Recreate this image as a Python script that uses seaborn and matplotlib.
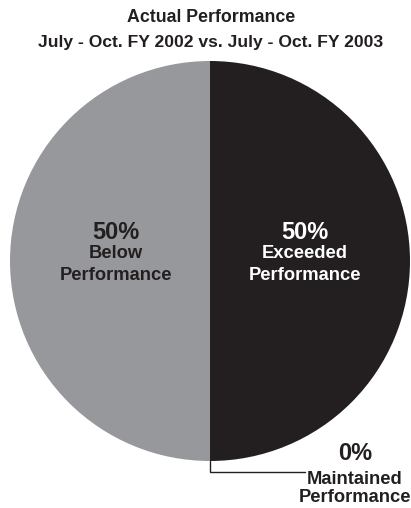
import matplotlib
matplotlib.use("Agg")
import matplotlib.pyplot as plt
import seaborn as sns

sns.set_theme(style="white")
plt.rcParams["font.family"] = ["Liberation Sans", "DejaVu Sans"]

# Performance shares, clockwise from 12 o'clock
categories = ["Exceeded\nPerformance", "Maintained\nPerformance", "Below\nPerformance"]
shares = [50, 0, 50]
colors = ["#231f20", "#ffffff", "#97989c"]

W, H = 411, 508
fig = plt.figure(figsize=(W / 100, H / 100), dpi=100)
fig.patch.set_facecolor("white")

# pie centred at (210, 261) px with a 200 px radius
cx, cy, r = 210, 261, 200
ax = fig.add_axes([(cx - r) / W, (H - cy - r) / H, 2 * r / W, 2 * r / H])
ax.pie(shares, colors=colors, startangle=90, counterclock=False,
       wedgeprops=dict(linewidth=0))
ax.set_xlim(-1, 1)
ax.set_ylim(-1, 1)
ax.set_aspect("auto")
ax.axis("off")

def fx(px):
    return px / W

def fy(py):
    return 1 - py / H

ink = "#231f20"

# title
fig.text(fx(211), fy(18), "Actual Performance", ha="center", va="center",
         fontsize=12.8, fontweight="bold", color=ink)
fig.text(fx(211), fy(42), "July - Oct. FY 2002 vs. July - Oct. FY 2003",
         ha="center", va="center", fontsize=12.6, fontweight="bold", color=ink)

# labels: percentage on top, then the category name line by line
def label(x, y, pct, name, color, gaps):
    fig.text(fx(x), fy(y), f"{pct}%", ha="center", va="center",
             fontsize=17, fontweight="bold", color=color)
    for line, dy in zip(name.split("\n"), gaps):
        fig.text(fx(x), fy(y + dy), line, ha="center", va="center",
                 fontsize=13.2, fontweight="bold", color=color)

label(305, 232, shares[0], categories[0], "white", (21, 43))
label(116, 232, shares[2], categories[2], ink, (21, 43))

# zero share: leader line from the bottom of the pie
ax.plot([0, 0, (305 - cx) / r], [-1, -(472 - cy) / r, -(472 - cy) / r],
        color=ink, linewidth=1, clip_on=False, solid_joinstyle="miter")
label(355, 453, shares[1], categories[1], ink, (26, 45))

fig.savefig("out.png", dpi=100, facecolor="white")
